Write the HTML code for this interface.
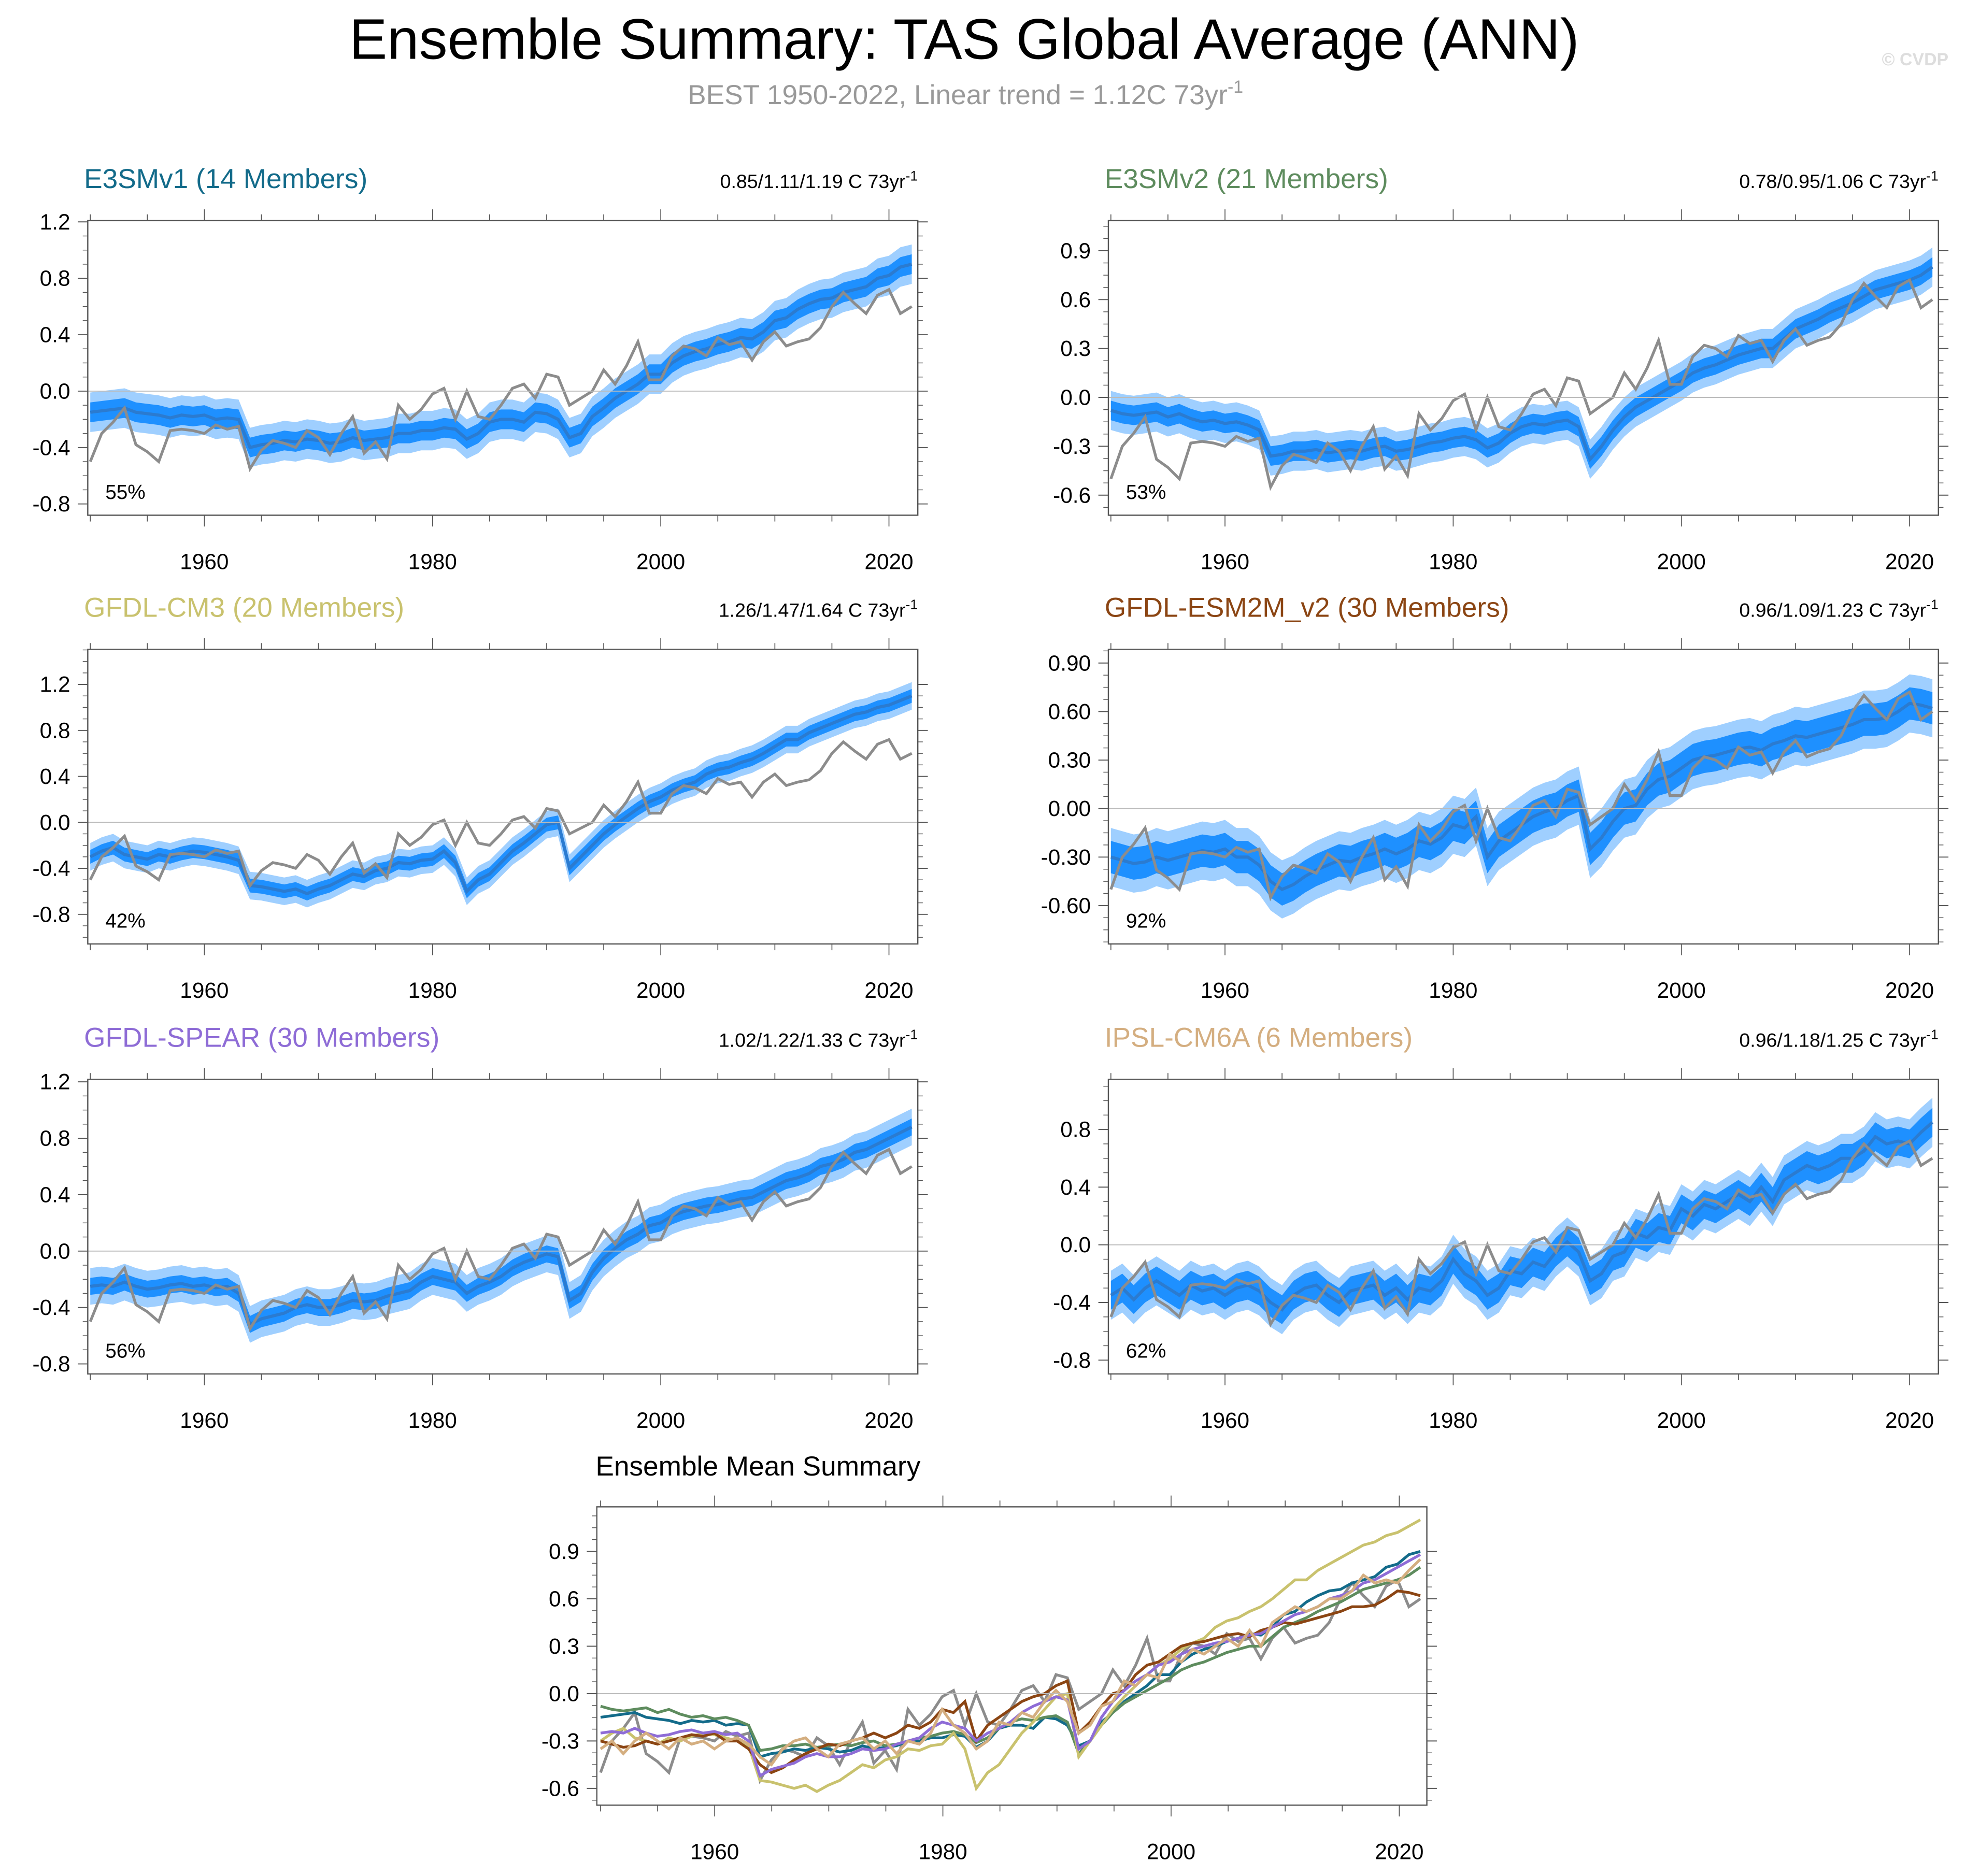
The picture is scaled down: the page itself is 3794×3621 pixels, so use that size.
<!DOCTYPE html>
<html><head><meta charset="utf-8">
<style>
html,body{margin:0;padding:0;background:#fff;}
svg{display:block;}
text{font-family:"Liberation Sans",Arial,sans-serif;}
</style></head>
<body>
<svg id="fig" width="3794" height="3621" viewBox="0 0 1568 1496.5" preserveAspectRatio="none" xmlns="http://www.w3.org/2000/svg">
<rect x="0" y="0" width="1568" height="1496.5" fill="#fff"/>
<text x="769" y="47" font-size="45.5" text-anchor="middle" fill="#000">Ensemble Summary: TAS Global Average (ANN)</text>
<text x="770" y="83" font-size="22" text-anchor="middle" fill="#999">BEST 1950-2022, Linear trend = 1.12C 73yr<tspan dy="-9" font-size="14">-1</tspan></text>
<text x="1554" y="52" font-size="14" font-weight="bold" text-anchor="end" fill="#ddd">© CVDP</text>
<g id="plots"></g>
</svg>
<script>
const startYear = 1950;
const obsBEST = [-0.5,-0.3,-0.22,-0.12,-0.38,-0.43,-0.5,-0.28,-0.27,-0.28,
-0.3,-0.24,-0.27,-0.25,-0.55,-0.42,-0.35,-0.37,-0.4,-0.28,
-0.33,-0.45,-0.3,-0.18,-0.44,-0.36,-0.48,-0.1,-0.2,-0.13,
-0.02,0.02,-0.2,0.0,-0.18,-0.2,-0.1,0.02,0.05,-0.05,
0.12,0.1,-0.1,-0.05,0.0,0.15,0.05,0.18,0.35,0.08,
0.08,0.25,0.32,0.3,0.25,0.38,0.33,0.35,0.22,0.35,
0.42,0.32,0.35,0.37,0.45,0.6,0.7,0.62,0.55,0.68,
0.72,0.55,0.6];
const meanE3SMv1 = [-0.15,-0.14,-0.13,-0.12,-0.15,-0.16,-0.17,-0.19,-0.17,-0.18,
-0.17,-0.2,-0.19,-0.2,-0.4,-0.38,-0.37,-0.35,-0.36,-0.34,
-0.35,-0.37,-0.36,-0.33,-0.35,-0.34,-0.33,-0.3,-0.3,-0.28,
-0.28,-0.26,-0.27,-0.34,-0.3,-0.22,-0.2,-0.2,-0.22,-0.15,
-0.16,-0.2,-0.33,-0.3,-0.18,-0.12,-0.05,0.0,0.05,0.12,
0.12,0.2,0.25,0.28,0.3,0.33,0.35,0.38,0.37,0.42,
0.5,0.52,0.58,0.62,0.65,0.66,0.7,0.72,0.74,0.8,
0.82,0.88,0.9];
const meanE3SMv2 = [-0.08,-0.1,-0.11,-0.1,-0.09,-0.12,-0.1,-0.13,-0.15,-0.14,
-0.16,-0.15,-0.17,-0.2,-0.36,-0.35,-0.33,-0.33,-0.32,-0.34,
-0.33,-0.32,-0.33,-0.31,-0.3,-0.33,-0.32,-0.3,-0.28,-0.27,
-0.25,-0.24,-0.26,-0.31,-0.28,-0.22,-0.18,-0.16,-0.17,-0.15,
-0.14,-0.18,-0.38,-0.3,-0.2,-0.12,-0.06,-0.02,0.02,0.06,
0.1,0.15,0.18,0.2,0.23,0.26,0.28,0.3,0.3,0.36,
0.42,0.45,0.48,0.52,0.55,0.58,0.62,0.66,0.68,0.7,
0.72,0.75,0.8];
const meanCM3 = [-0.3,-0.25,-0.22,-0.28,-0.3,-0.32,-0.28,-0.3,-0.27,-0.25,
-0.26,-0.28,-0.3,-0.33,-0.55,-0.56,-0.58,-0.6,-0.58,-0.62,
-0.58,-0.55,-0.5,-0.45,-0.47,-0.42,-0.4,-0.35,-0.36,-0.33,
-0.32,-0.25,-0.35,-0.6,-0.5,-0.45,-0.35,-0.25,-0.18,-0.1,
-0.02,0.0,-0.4,-0.3,-0.2,-0.1,-0.02,0.05,0.12,0.18,
0.22,0.28,0.32,0.35,0.42,0.46,0.48,0.52,0.55,0.6,
0.66,0.72,0.72,0.78,0.82,0.86,0.9,0.94,0.96,1.0,
1.02,1.06,1.1];
const meanESM2M = [-0.3,-0.32,-0.34,-0.33,-0.3,-0.32,-0.3,-0.28,-0.26,-0.27,
-0.25,-0.3,-0.3,-0.35,-0.45,-0.5,-0.47,-0.42,-0.38,-0.35,
-0.32,-0.33,-0.3,-0.28,-0.25,-0.28,-0.25,-0.2,-0.22,-0.18,
-0.1,-0.12,-0.05,-0.3,-0.2,-0.15,-0.1,-0.05,-0.02,0.0,
0.05,0.08,-0.25,-0.18,-0.08,0.0,0.02,0.12,0.18,0.2,
0.25,0.3,0.32,0.33,0.35,0.37,0.38,0.36,0.4,0.42,
0.45,0.44,0.46,0.48,0.5,0.52,0.55,0.55,0.56,0.6,
0.65,0.64,0.62];
const meanSPEAR = [-0.25,-0.24,-0.25,-0.22,-0.25,-0.27,-0.26,-0.24,-0.23,-0.25,
-0.24,-0.26,-0.25,-0.3,-0.52,-0.48,-0.46,-0.44,-0.4,-0.38,
-0.4,-0.4,-0.38,-0.35,-0.36,-0.35,-0.32,-0.3,-0.28,-0.22,
-0.18,-0.2,-0.22,-0.3,-0.25,-0.22,-0.18,-0.12,-0.08,-0.05,
-0.02,-0.04,-0.35,-0.3,-0.15,-0.05,0.02,0.08,0.12,0.18,
0.2,0.25,0.28,0.3,0.32,0.33,0.35,0.37,0.38,0.42,
0.46,0.5,0.52,0.55,0.6,0.62,0.65,0.7,0.72,0.76,
0.8,0.84,0.88];
const meanIPSL = [-0.35,-0.3,-0.38,-0.3,-0.25,-0.3,-0.35,-0.28,-0.32,-0.3,
-0.35,-0.3,-0.28,-0.32,-0.4,-0.45,-0.35,-0.3,-0.28,-0.35,
-0.4,-0.32,-0.3,-0.28,-0.35,-0.3,-0.38,-0.3,-0.32,-0.25,
-0.1,-0.2,-0.25,-0.35,-0.3,-0.18,-0.2,-0.12,-0.15,-0.05,
0.02,-0.05,-0.25,-0.2,-0.08,-0.05,0.08,0.05,0.12,0.1,
0.25,0.2,0.28,0.25,0.3,0.35,0.3,0.4,0.3,0.45,
0.5,0.55,0.52,0.55,0.6,0.6,0.65,0.75,0.7,0.72,
0.7,0.78,0.85];
const modelNames = ["E3SMv1 (14 Members)","E3SMv2 (21 Members)","GFDL-CM3 (20 Members)","GFDL-ESM2M_v2 (30 Members)","GFDL-SPEAR (30 Members)","IPSL-CM6A (6 Members)"];
const trendLabels = ["0.85/1.11/1.19 C 73yr","0.78/0.95/1.06 C 73yr","1.26/1.47/1.64 C 73yr","0.96/1.09/1.23 C 73yr","1.02/1.22/1.33 C 73yr","0.96/1.18/1.25 C 73yr"];
const pctLabels = ["55%","53%","42%","92%","56%","62%"];
const innerSpread = [0.07,0.06,0.06,0.1,0.06,0.1];
const outerSpread = [0.14,0.12,0.12,0.18,0.13,0.17];
const xTickLabels = [1960,1980,2000,2020];
const yTicks1 = [1.2,0.8,0.4,0.0,-0.4,-0.8];
const yTicks2 = [0.9,0.6,0.3,0.0,-0.3,-0.6];
const yTicks3 = [1.2,0.8,0.4,0.0,-0.4,-0.8];
const yTicks4 = [0.9,0.6,0.3,0.0,-0.3,-0.6];
const yTicks5 = [1.2,0.8,0.4,0.0,-0.4,-0.8];
const yTicks6 = [0.8,0.4,0.0,-0.4,-0.8];
const yTicksSum = [0.9,0.6,0.3,0.0,-0.3,-0.6];

const means = [meanE3SMv1,meanE3SMv2,meanCM3,meanESM2M,meanSPEAR,meanIPSL];
const colors = ["#136b8a","#5e8c5e","#c9c26e","#8b4513","#8e6cd6","#d4ae80"];
const yTickSets = [yTicks1,yTicks2,yTicks3,yTicks4,yTicks5,yTicks6];
const fmt = [1,1,1,2,1,1];
const layout = [
 [70,176,312,112.5,72],[884,176,317,130,886],
 [70,518,656,91.7,72],[884,518,645,129,886],
 [70,861,998,112.5,72],[884,861,993,115,886]];
const NS="http://www.w3.org/2000/svg";
const root=document.getElementById('plots');
function mk(tag,attrs,parent){const e=document.createElementNS(NS,tag);for(const k in attrs)e.setAttribute(k,attrs[k]);(parent||root).appendChild(e);return e;}

function axes(g,L,T,W,H,yz,ppu,x0,ticks,dec){
  const xs=y=>x0+(y-startYear)*9.1;
  const ys=v=>yz-v*ppu;
  mk('line',{x1:L,x2:L+W,y1:yz,y2:yz,stroke:'#bbb','stroke-width':0.8},g);
  mk('rect',{x:L,y:T,width:W,height:H,fill:'none',stroke:'#555','stroke-width':1},g);
  for(let yr=1950;yr<=2022;yr+=5){
    const x=xs(yr),len=(yr%20===0)?9:5;
    mk('line',{x1:x,x2:x,y1:T+H,y2:T+H+len,stroke:'#555','stroke-width':0.7},g);
    mk('line',{x1:x,x2:x,y1:T,y2:T-len,stroke:'#555','stroke-width':0.7},g);
  }
  const step=ticks[0]-ticks[1];
  for(let i=0;i<ticks.length;i++){
    const v=ticks[i],y=ys(v);
    mk('line',{x1:L-8,x2:L,y1:y,y2:y,stroke:'#555','stroke-width':0.8},g);
    mk('line',{x1:L+W,x2:L+W+8,y1:y,y2:y,stroke:'#555','stroke-width':0.8},g);
    const t=mk('text',{x:L-14,y:y+6,'font-size':17.5,'text-anchor':'end',fill:'#000'},g);
    t.textContent=v.toFixed(dec);
    for(let m=1;m<4;m++){
      const ym=ys(v-step*m/4);
      if(ym>T+H) break;
      mk('line',{x1:L-4,x2:L,y1:ym,y2:ym,stroke:'#555','stroke-width':0.6},g);
      mk('line',{x1:L+W,x2:L+W+4,y1:ym,y2:ym,stroke:'#555','stroke-width':0.6},g);
    }
    if(i===0){for(let m=1;m<4;m++){const ym=ys(v+step*m/4);if(ym<T)break;
      mk('line',{x1:L-4,x2:L,y1:ym,y2:ym,stroke:'#555','stroke-width':0.6},g);}}
  }
  xTickLabels.forEach(yr=>{
    const t=mk('text',{x:xs(yr),y:T+H+43,'font-size':17.5,'text-anchor':'middle',fill:'#000'},g);
    t.textContent=yr;
  });
  return [xs,ys];
}
function linePath(arr,xs,ys){return arr.map((v,i)=>(i?'L':'M')+xs(startYear+i).toFixed(2)+' '+ys(v).toFixed(2)).join(' ');}
function bandPath(arr,w,xs,ys){
  let d=arr.map((v,i)=>(i?'L':'M')+xs(startYear+i).toFixed(2)+' '+ys(v+w).toFixed(2)).join(' ');
  for(let i=arr.length-1;i>=0;i--) d+=' L'+xs(startYear+i).toFixed(2)+' '+ys(arr[i]-w).toFixed(2);
  return d+' Z';
}
for(let p=0;p<6;p++){
  const [L,T,yz,ppu,x0]=layout[p];
  const g=mk('g',{});
  
  
  const xs=yr=>x0+(yr-startYear)*9.1, ys=v=>yz-v*ppu;
  const ob=mk('path',{d:bandPath(means[p],outerSpread[p],xs,ys),fill:'#9fcfff',stroke:'none'},g);
  
  
  const ib=mk('path',{d:bandPath(means[p],innerSpread[p],xs,ys),fill:'#1e90ff',stroke:'none'},g);
  
  
  const ml=mk('path',{d:linePath(means[p],xs,ys),fill:'none',stroke:'#2b7bd0','stroke-width':2.5},g);
  
  
  const ol=mk('path',{d:linePath(obsBEST,xs,ys),fill:'none',stroke:'#8c8c8c','stroke-width':2.2},g);
  
  
  axes(g,L,T,662,235,yz,ppu,x0,yTickSets[p],fmt[p]);
  const tt=mk('text',{x:L-3,y:T-26,'font-size':22,fill:colors[p]},g);
  tt.textContent=modelNames[p];
  
  
  const tr=mk('text',{x:L+662,y:T-26,'font-size':15.5,'text-anchor':'end',fill:'#000'},g);
  tr.textContent=trendLabels[p];
  const sup=mk('tspan',{dy:-6,'font-size':11},tr);sup.textContent='-1';
  
  
  const pc=mk('text',{x:L+14,y:T+222,'font-size':16,fill:'#000'},g);
  pc.textContent=pctLabels[p];
  
  
}
{
  const L=476,T=1202,yz=1351,ppu=126,x0=479;
  const g=mk('g',{});
  
  
  const xs=yr=>x0+(yr-startYear)*9.08, ys=v=>yz-v*ppu;
  const ol=mk('path',{d:linePath(obsBEST,xs,ys),fill:'none',stroke:'#8c8c8c','stroke-width':2.2},g);
  
  
  for(let p=0;p<6;p++){
    const l=mk('path',{d:linePath(means[p],xs,ys),fill:'none',stroke:colors[p],'stroke-width':2.2},g);
    
    
  }
  axes(g,L,T,662,238,yz,ppu,x0,yTicksSum,1);
  const t=mk('text',{x:475,y:1177,'font-size':22,fill:'#000'},g);
  t.textContent='Ensemble Mean Summary';
  
  
}
</script>
</body></html>
